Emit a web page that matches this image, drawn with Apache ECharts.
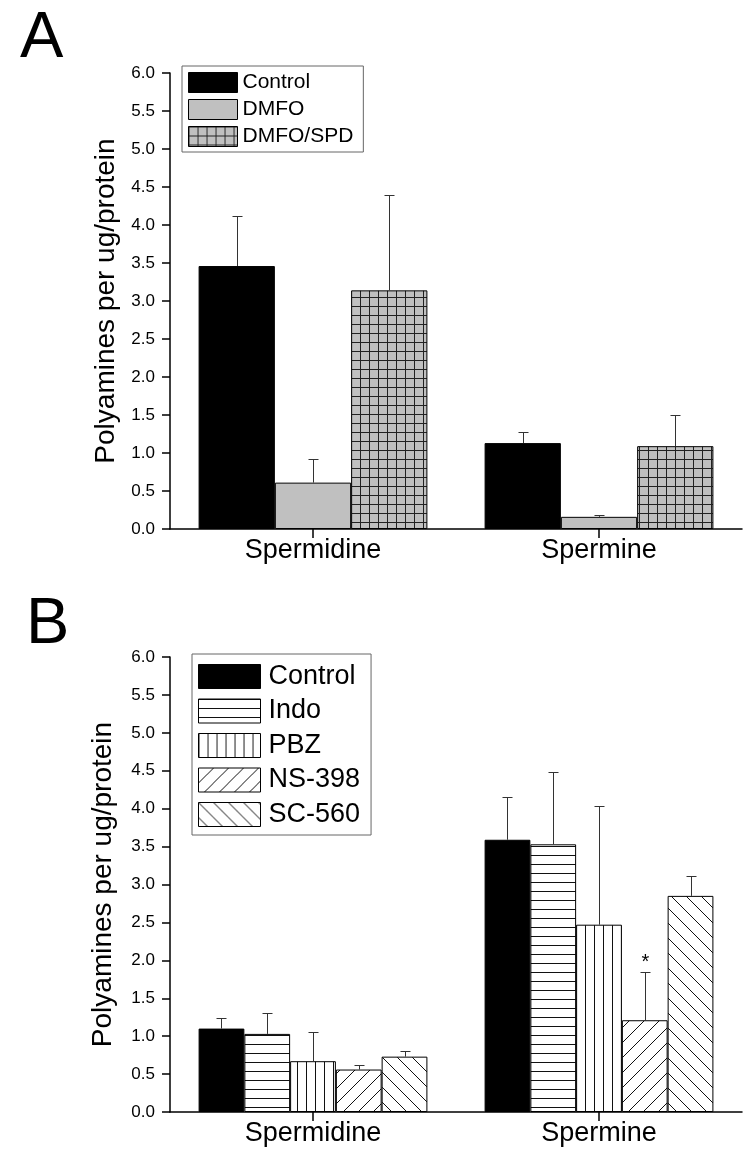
<!DOCTYPE html>
<html>
<head>
<meta charset="utf-8">
<script src="https://cdn.jsdelivr.net/npm/echarts@6/dist/echarts.min.js"></script>
<style>
html,body{margin:0;padding:0;background:#fff;}
#chart{width:753px;height:1165px;}
</style>
</head>
<body>
<div id="chart"></div>
<script>
// ---------- DATA ----------
const categories = ['Spermidine', 'Spermine'];
const yTicks = [0, 0.5, 1.0, 1.5, 2.0, 2.5, 3.0, 3.5, 4.0, 4.5, 5.0, 5.5, 6.0];

// Panel A
const seriesNamesA = ['Control', 'DMFO', 'DMFO/SPD'];
const aControl    = [3.46, 1.13];
const aControlErr = [0.66, 0.14];
const aDMFO       = [0.61, 0.16];
const aDMFOErr    = [0.31, 0.03];
const aDMFOSPD    = [3.14, 1.09];
const aDMFOSPDErr = [1.25, 0.41];

// Panel B
const seriesNamesB = ['Control', 'Indo', 'PBZ', 'NS-398', 'SC-560'];
const bControl    = [1.10, 3.59];
const bControlErr = [0.14, 0.56];
const bIndo       = [1.03, 3.53];
const bIndoErr    = [0.27, 0.96];
const bPBZ        = [0.67, 2.47];
const bPBZErr     = [0.38, 1.57];
const bNS398      = [0.56, 1.21];
const bNS398Err   = [0.06, 0.64];
const bSC560      = [0.73, 2.85];
const bSC560Err   = [0.07, 0.26];
// significance marks per series (index by category)
const bNS398Marks = ['', '*'];

// ---------- PATTERNS ----------
function pat(w, h, bg, draw) {
  const c = document.createElement('canvas');
  c.width = w; c.height = h;
  const g = c.getContext('2d');
  g.fillStyle = bg; g.fillRect(0, 0, w, h);
  g.strokeStyle = '#111'; g.lineWidth = 1;
  draw(g, w, h);
  return { image: c, repeat: 'repeat' };
}
const gridPat = pat(9, 9, '#c0c0c0', (g, w, h) => {
  g.strokeStyle = '#222';
  g.beginPath(); g.moveTo(0.5, 0); g.lineTo(0.5, h); g.moveTo(0, 0.5); g.lineTo(w, 0.5); g.stroke();
});
const horizPat = pat(9, 9, '#ffffff', (g, w) => {
  g.beginPath(); g.moveTo(0, 0.5); g.lineTo(w, 0.5); g.stroke();
});
const vertPat = pat(9, 9, '#ffffff', (g, w, h) => {
  g.beginPath(); g.moveTo(0.5, 0); g.lineTo(0.5, h); g.stroke();
});
const slashPat = pat(15, 15, '#ffffff', (g, w, h) => {
  g.beginPath();
  for (const k of [-15, 0, 15]) { g.moveTo(k, h); g.lineTo(k + w, 0); }
  g.stroke();
});
const backPat = pat(15, 15, '#ffffff', (g, w, h) => {
  g.beginPath();
  for (const k of [-15, 0, 15]) { g.moveTo(k, 0); g.lineTo(k + w, h); }
  g.stroke();
});

const FONT = "'Liberation Sans', Arial, sans-serif";

// ---------- BUILD ----------
function barSeries(name, data, color, idx) {
  return {
    type: 'bar', name, data, xAxisIndex: idx, yAxisIndex: idx,
    barGap: '0%', barCategoryGap: '20%',
    itemStyle: { color, borderColor: '#000', borderWidth: 1 },
    emphasis: { disabled: true },
    z: 2
  };
}

function errSeries(idx, valsList, errsList, marksList) {
  const n = valsList.length;
  const data = [];
  valsList.forEach((vals, si) => vals.forEach((v, ci) => {
    data.push([ci, v, errsList[si][ci], si]);
  }));
  return {
    type: 'custom', xAxisIndex: idx, yAxisIndex: idx, z: 5, silent: true,
    encode: { x: 0, y: 1 },
    data,
    renderItem(params, api) {
      const ci = api.value(0), v = api.value(1), e = api.value(2), si = api.value(3);
      const band = api.size([1, 0])[0];
      const bw = band * 0.8 / n;
      const p0 = api.coord([ci, v]);
      const p1 = api.coord([ci, v + e]);
      const x = Math.round(p0[0] + (si - (n - 1) / 2) * bw) + 0.5;
      const yTop = Math.round(p1[1]) + 0.5;
      const children = [
        { type: 'line', shape: { x1: x, y1: p0[1], x2: x, y2: yTop }, style: { stroke: '#333', lineWidth: 1 } },
        { type: 'line', shape: { x1: x - 5, y1: yTop, x2: x + 5, y2: yTop }, style: { stroke: '#333', lineWidth: 1 } }
      ];
      const mk = marksList[si] ? marksList[si][ci] : '';
      if (mk) {
        children.push({ type: 'text', style: { text: mk, x: x, y: yTop - 10, align: 'center', verticalAlign: 'middle', font: '20px ' + FONT, fill: '#000' } });
      }
      return { type: 'group', children };
    }
  };
}

function xAxisCfg(idx) {
  return {
    type: 'category', gridIndex: idx, data: categories, boundaryGap: true,
    axisLine: { lineStyle: { color: '#000', width: 1.5 } },
    axisTick: { show: true, alignWithLabel: true, length: 9, lineStyle: { color: '#000', width: 1.5 } },
    axisLabel: { color: '#000', fontSize: 27, fontFamily: FONT, margin: 8 },
    splitLine: { show: false }
  };
}
function yAxisCfg(idx, gap) {
  return {
    type: 'value', gridIndex: idx, min: yTicks[0], max: yTicks[yTicks.length - 1], interval: 0.5,
    name: 'Polyamines per ug/protein', nameLocation: 'middle', nameGap: gap,
    nameTextStyle: { color: '#000', fontSize: 28, fontFamily: FONT },
    axisLine: { show: true, lineStyle: { color: '#000', width: 1.5 } },
    axisTick: { show: true, length: 8, lineStyle: { color: '#000', width: 1.5 } },
    axisLabel: { color: '#000', fontSize: 17, fontFamily: FONT, margin: 15, formatter: v => v.toFixed(1) },
    splitLine: { show: false }
  };
}

const chart = echarts.init(document.getElementById('chart'), null, { renderer: 'canvas' });
chart.setOption({
  animation: false,
  backgroundColor: '#fff',
  title: [
    { text: 'A', left: 15, top: 2, textStyle: { fontSize: 65, fontWeight: 'normal', color: '#000', fontFamily: FONT } },
    { text: 'B', left: 21, top: 588, textStyle: { fontSize: 65, fontWeight: 'normal', color: '#000', fontFamily: FONT } }
  ],
  grid: [
    { left: 170, right: 11, top: 73, height: 456 },
    { left: 170, right: 11, top: 657, height: 455 }
  ],
  xAxis: [xAxisCfg(0), xAxisCfg(1)],
  yAxis: [yAxisCfg(0, 46), yAxisCfg(1, 53)],
  legend: [
    {
      data: seriesNamesA, orient: 'vertical', left: 182, top: 66,
      icon: 'rect', itemWidth: 49, itemHeight: 20, itemGap: 6,
      padding: [6, 10, 5, 6], borderColor: '#666', borderWidth: 1,
      itemStyle: { borderColor: '#000', borderWidth: 1 },
      textStyle: { fontSize: 21, fontFamily: FONT, color: '#000', lineHeight: 20 },
      selectedMode: false
    },
    {
      data: seriesNamesB, orient: 'vertical', left: 192, top: 654,
      icon: 'rect', itemWidth: 62, itemHeight: 24, itemGap: 7.5,
      padding: [9, 11, 7, 6], borderColor: '#666', borderWidth: 1,
      itemStyle: { borderColor: '#000', borderWidth: 1 },
      textStyle: { fontSize: 27, fontFamily: FONT, color: '#000', lineHeight: 24, padding: [0, 0, 0, 3] },
      selectedMode: false
    }
  ],
  series: [
    barSeries('Control', aControl, '#000000', 0),
    barSeries('DMFO', aDMFO, '#c0c0c0', 0),
    barSeries('DMFO/SPD', aDMFOSPD, gridPat, 0),
    errSeries(0, [aControl, aDMFO, aDMFOSPD], [aControlErr, aDMFOErr, aDMFOSPDErr], []),
    barSeries('Control', bControl, '#000000', 1),
    barSeries('Indo', bIndo, horizPat, 1),
    barSeries('PBZ', bPBZ, vertPat, 1),
    barSeries('NS-398', bNS398, slashPat, 1),
    barSeries('SC-560', bSC560, backPat, 1),
    errSeries(1, [bControl, bIndo, bPBZ, bNS398, bSC560], [bControlErr, bIndoErr, bPBZErr, bNS398Err, bSC560Err], [null, null, null, bNS398Marks, null])
  ]
});
</script>
</body>
</html>
